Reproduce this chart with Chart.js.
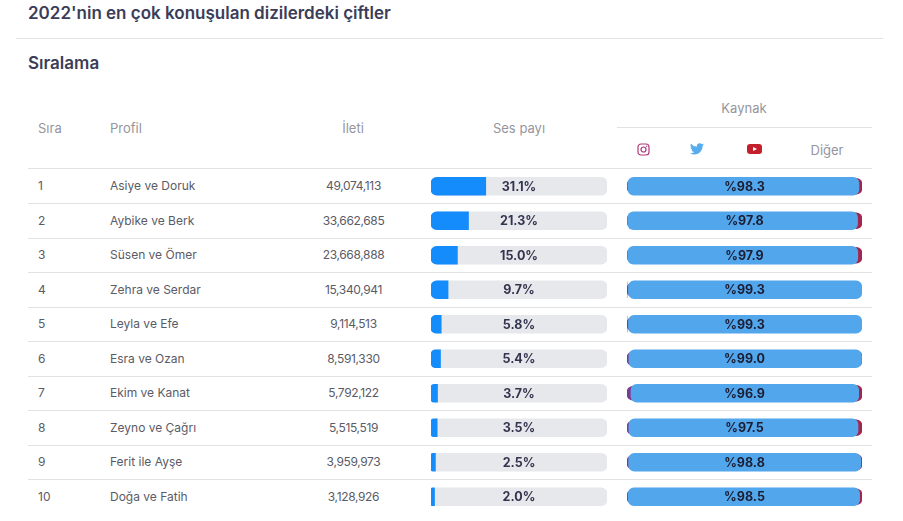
<!DOCTYPE html>
<html lang="tr"><head><meta charset="utf-8">
<style>
html,body{margin:0;padding:0;background:#fff;width:903px;height:521px;overflow:hidden;font-family:Inter,"Noto Sans",sans-serif}
.t{position:absolute;white-space:nowrap;line-height:1;transform:translateY(-50%)}
.c{transform:translate(-50%,-50%)}
.h{color:#95959d;font-size:13px}
.r{color:#5a5b66;font-size:12px}
.n{letter-spacing:-.35px}
.rule{position:absolute;height:1px;background:#e2e2e5}
canvas{position:absolute;display:block}
svg{position:absolute}
</style></head><body>
<div id="root"></div>
<canvas id="share" width="176" height="345" style="left:431px;top:169px;width:176px;height:345px"></canvas>
<canvas id="source" width="235" height="345" style="left:627px;top:169px;width:235px;height:345px"></canvas>
<svg style="left:637px;top:142.500px" width="13" height="13" viewBox="0 0 13 13"><rect x="1" y="1" width="11" height="11" rx="3" fill="none" stroke="#b03a78" stroke-width="1.2"/><circle cx="6.5" cy="6.5" r="2.5" fill="none" stroke="#a8397f" stroke-width="1.2"/><circle cx="9.7" cy="3.3" r=".7" fill="#a8397f"/></svg>
<svg style="left:690px;top:143px" width="14" height="12" viewBox="0 0 24 20"><path fill="#55acee" d="M24 2.4c-.9.4-1.8.7-2.8.8 1-.6 1.8-1.6 2.2-2.7-1 .6-2 1-3.1 1.2A4.9 4.9 0 0 0 11.900 6.200 14 14 0 0 1 1.700.9a4.900 4.900 0 0 0 1.500 6.600c-.8 0-1.600-.2-2.200-.6 0 2.400 1.700 4.400 3.900 4.900-.7.200-1.500.2-2.200.1.600 2 2.400 3.400 4.600 3.400A9.900 9.900 0 0 1 0 17.300 14 14 0 0 0 7.500 19.500c9.100 0 14.300-7.700 14-14.600 1-.7 1.800-1.500 2.500-2.500z"/></svg>
<svg style="left:746.500px;top:143px" width="15" height="12" viewBox="0 0 15 12"><rect x="0" y="1" width="15" height="10" rx="3" fill="#c4202b"/><path d="M6 4l4 2-4 2z" fill="#fff"/></svg>
<script src="https://cdn.jsdelivr.net/npm/chart.js@4"></script>
<script>
const ranks = ["1","2","3","4","5","6","7","8","9","10"];
const profiles = ["Asiye ve Doruk","Aybike ve Berk","Süsen ve Ömer","Zehra ve Serdar","Leyla ve Efe","Esra ve Ozan","Ekim ve Kanat","Zeyno ve Çağrı","Ferit ile Ayşe","Doğa ve Fatih"];
const posts = ["49,074,113","33,662,685","23,668,888","15,340,941","9,114,513","8,591,330","5,792,122","5,515,519","3,959,973","3,128,926"];
const voiceShare = [31.1,21.3,15.0,9.7,5.8,5.4,3.7,3.5,2.5,2.0];
const instagram = [0.4,0.3,0.3,0.6,0.6,0.8,1.7,0.8,0.7,0.5];
const twitter = [98.3,97.8,97.9,99.3,99.3,99.0,96.9,97.5,98.8,98.5];
const youtube = [1.2,1.8,1.7,0.1,0.1,0.2,1.3,1.6,0.4,0.9];
const other = [0.1,0.1,0.1,0,0,0,0.1,0.1,0.1,0.1];

const root = document.getElementById('root');
function text(s,x,y,cls,extra){const d=document.createElement('div');d.className='t '+cls;d.textContent=s;d.style.left=x+'px';d.style.top=y+'px';if(extra)Object.assign(d.style,extra);root.appendChild(d);}
function rule(x0,x1,y){const d=document.createElement('div');d.className='rule';d.style.left=x0+'px';d.style.width=(x1-x0)+'px';d.style.top=y+'px';root.appendChild(d);}
text("2022'nin en çok konuşulan dizilerdeki çiftler",28,13,'',{fontSize:'17px',fontWeight:'600',color:'#3b3d58'});
text("Sıralama",28,63,'',{fontSize:'17px',fontWeight:'600',color:'#3b3d58'});
rule(16,883,38);
text("Sıra",38,128,'h');text("Profil",110,128,'h');
text("İleti",353,128,'h c');text("Ses payı",519,128,'h c');text("Kaynak",744,108,'h c');text("Diğer",827,149.5,'h c');
rule(617,872,127);rule(28,872,168);
ranks.forEach((r,i)=>{
  const y=186+i*34.5;
  text(r,38,y,'r');text(profiles[i],110,y,'r');text(posts[i],353.5,y,'r c n');
  if(i<ranks.length-1) rule(28,872,Math.round(y+17));
});

const centerLabels = (fmt,color) => ({
  id:'centerLabels',
  afterDatasetsDraw(chart){
    const {ctx,chartArea:a,scales:{y}}=chart;
    ctx.save();ctx.font='700 12.5px Inter, "Noto Sans", sans-serif';ctx.fillStyle=color;ctx.textAlign='center';ctx.textBaseline='middle';
    ranks.forEach((_,i)=>ctx.fillText(fmt(i),(a.left+a.right)/2,y.getPixelForValue(i)+.5));
    ctx.restore();
  }
});
const baseOptions = {
  indexAxis:'y',responsive:false,animation:false,devicePixelRatio:1,
  layout:{padding:0},
  plugins:{legend:{display:false},tooltip:{enabled:false},title:{display:false}},
  scales:{
    x:{display:false,min:0,max:100,stacked:false},
    y:{display:false,offset:true,stacked:false}
  }
};
const R=6;
new Chart(document.getElementById('share'),{
  type:'bar',
  data:{labels:profiles,datasets:[
    {label:'Ses payı',data:voiceShare,backgroundColor:'#148cfb',barThickness:18,grouped:false,borderSkipped:false,borderRadius:{topLeft:R,bottomLeft:R,topRight:0,bottomRight:0}},
    {label:'Kalan',data:voiceShare.map(()=>100),backgroundColor:'#e6e8ec',barThickness:18,grouped:false,borderSkipped:false,borderRadius:R}
  ]},
  options:baseOptions,
  plugins:[centerLabels(i=>voiceShare[i].toFixed(1)+'%','#33354f')]
});
const UNDER=6;
new Chart(document.getElementById('source'),{
  type:'bar',
  data:{labels:profiles,datasets:[
    {label:'Twitter',data:twitter.map((v,i)=>[instagram[i],instagram[i]+v]),backgroundColor:'#52a6ec',barThickness:18,grouped:false,borderSkipped:false,borderRadius:R},
    {label:'Instagram',data:instagram.map(v=>[0,v+UNDER]),backgroundColor:'#7d3a92',barThickness:14,grouped:false,borderSkipped:false,borderRadius:R},
    {label:'YouTube',data:youtube.map((v,i)=>v>0.15?[instagram[i]+twitter[i]-UNDER,100]:[0,0]),backgroundColor:'#a3264f',barThickness:16,grouped:false,borderSkipped:false,borderRadius:R},
    {label:'Diğer',data:other.map((v,i)=>[100-v-UNDER,100]),backgroundColor:'#6a2d66',barThickness:14,grouped:false,borderSkipped:false,borderRadius:R,hidden:true}
  ]},
  options:baseOptions,
  plugins:[centerLabels(i=>'%'+twitter[i].toFixed(1),'#1b1d33')]
});
</script>
</body></html>
